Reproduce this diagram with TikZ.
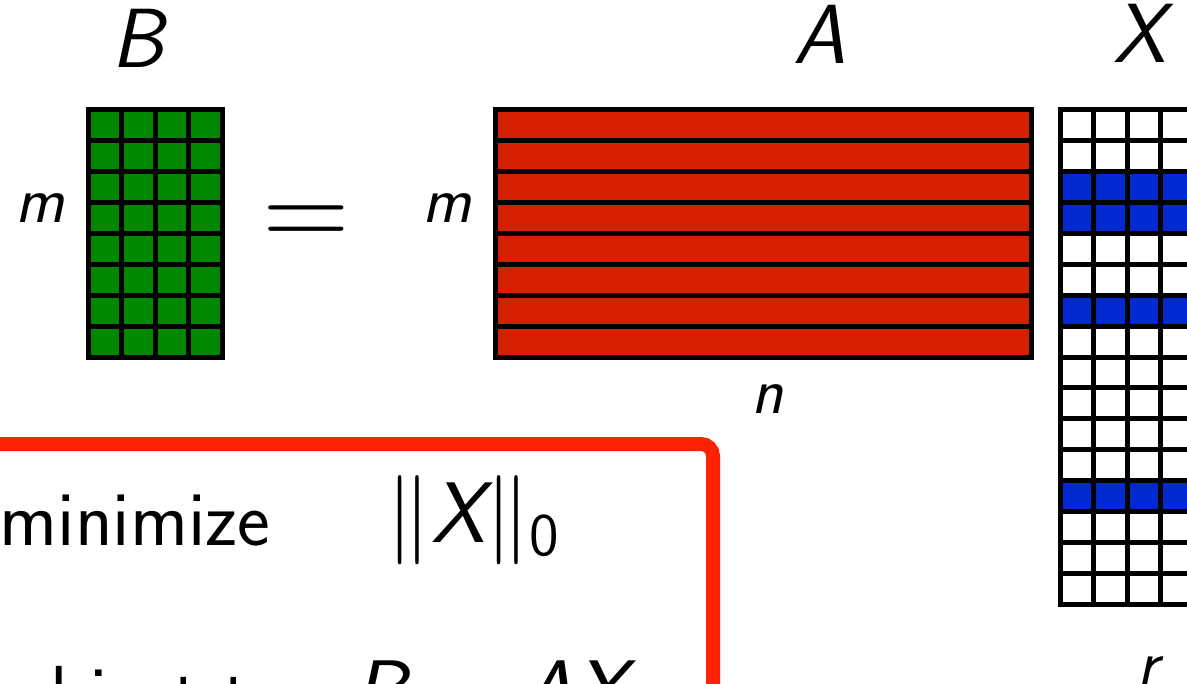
\documentclass[tikz,border=0pt]{standalone}
\usepackage{amsmath}
\usepackage{xcolor}
\usetikzlibrary{positioning}

\definecolor{bgreen}{RGB}{0,136,0}
\definecolor{ared}{RGB}{213,32,0}
\definecolor{xblue}{RGB}{3,41,210}
\definecolor{boxred}{RGB}{255,34,0}

\newcommand{\svar}[1]{\textsf{\itshape #1}}
\newcommand{\bigmath}[1]{\scalebox{2.15}{$#1$}}

\begin{document}
\begin{tikzpicture}[
		x=0.5pt,
		y=-0.5pt,
		line join=miter,
		cellline/.style={line width=2.5pt,black},
		biglabel/.style={font=\fontsize{42}{48}\selectfont\sffamily\itshape,anchor=base,inner sep=0pt},
		dimlabel/.style={font=\fontsize{33}{38}\selectfont\sffamily\itshape,anchor=base,inner sep=0pt},
		bodytext/.style={font=\fontsize{39}{46}\selectfont\sffamily,anchor=base,inner sep=0pt},
		mathtext/.style={font=\fontsize{20}{24}\selectfont,anchor=base,inner sep=0pt}
		]
		
		\useasboundingbox (0,0) rectangle (1187,684);
		\clip (0,0) rectangle (1187,684);
		
		% cell size
		\pgfmathsetmacro{\cw}{33.5}
		\pgfmathsetmacro{\ch}{30.875}
		
		% B (m x 4)
		\fill[bgreen] (88,110) rectangle (222,357);
		\foreach \i in {1,...,3}
			\draw[cellline] ({88+\i*\cw},110) -- ({88+\i*\cw},357);
		\foreach \j in {1,...,7}
			\draw[cellline] (88,{110+\j*\ch}) -- (222,{110+\j*\ch});
		\draw[cellline] (88,110) rectangle (222,357);
		
		% A (m x n), rows only
		\fill[ared] (495,110) rectangle (1031,357);
		\foreach \j in {1,...,7}
			\draw[cellline] (495,{110+\j*\ch}) -- (1031,{110+\j*\ch});
		\draw[cellline] (495,110) rectangle (1031,357);
		
		% X (n x 4), sparse rows
		\foreach \j in {2,3,6,12}
			\fill[xblue] (1060,{110+\j*\ch}) rectangle (1194,{110+(\j+1)*\ch});
		\foreach \i in {1,...,3}
			\draw[cellline] ({1060+\i*\cw},110) -- ({1060+\i*\cw},604);
		\foreach \j in {1,...,15}
			\draw[cellline] (1060,{110+\j*\ch}) -- (1194,{110+\j*\ch});
		\draw[cellline] (1060,110) rectangle (1194,604);
		
		% labels
		\node[biglabel] (labB) at (138,68) {B};
		\node[biglabel] (labA) at (820,64) {A};
		\node[biglabel] (labX) at (1140,63) {X};
		
		\node[dimlabel] (mB) at (40,222) {m};
		\node[dimlabel] (mA) at (447,222) {m};
		\node[dimlabel] (nA) at (767,413) {n};
		\node[dimlabel] (rX) at (1148,685) {r};
		
		\node[font=\fontsize{60}{70}\selectfont\sffamily,anchor=base,inner sep=0pt] (eqsign) at (306,249) {=};
		
		% problem box
		\draw[boxred,line width=7pt,rounded corners=6pt] (-100,444) rectangle (713,800);
		
		\node[bodytext] (mini) at (135,545) {minimize};
		\node[mathtext] (obj) at (474,542) {\bigmath{\|\svar{X}\|_{\textsf{0}}}};
		\node[bodytext] (subj) at (136,720) {subject to};
		\node[mathtext] (cons) at (491,720) {\bigmath{\svar{B} = \svar{A}\svar{X}}};
		
	\end{tikzpicture}
\end{document}
